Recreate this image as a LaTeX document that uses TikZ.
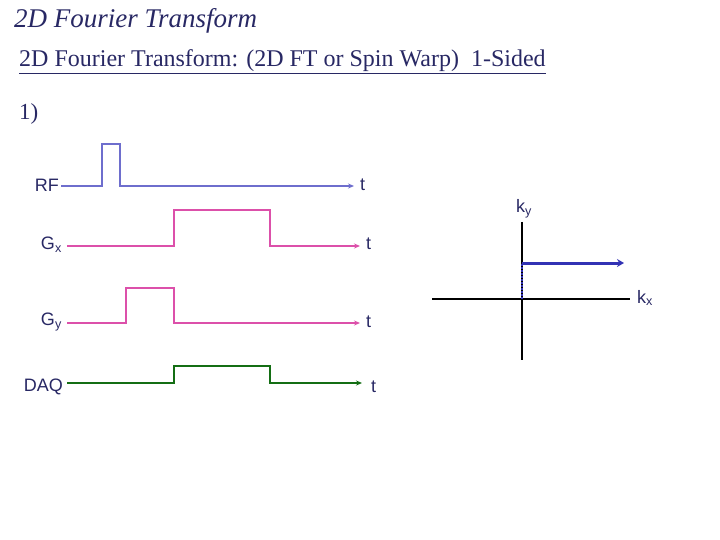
\documentclass[tikz,border=0pt]{standalone}
\usepackage{fontspec}
\setmainfont{Liberation Serif}
\setsansfont{Liberation Sans}
\usetikzlibrary{arrows.meta}
\definecolor{navy}{RGB}{40,40,100}
\definecolor{rfc}{RGB}{110,110,205}
\definecolor{pinkc}{RGB}{220,80,170}
\definecolor{greenc}{RGB}{20,110,20}
\definecolor{kblue}{RGB}{50,50,180}
\tikzset{
 lab/.style={font=\sffamily\fontsize{18}{20}\selectfont, text=navy, inner sep=0pt},
 wave/.style={line width=1.6pt, -{Stealth[length=6pt,width=5pt]}},
}
\begin{document}
\begin{tikzpicture}[x=1pt,y=-1pt]
\useasboundingbox (0,0) rectangle (720,540);
\node[anchor=west,inner sep=0pt,text=navy,font=\itshape\fontsize{27}{30}\selectfont] (title) at (14,21) {2D Fourier Transform};
\node[anchor=west,inner sep=0pt,text=navy,font=\fontsize{24}{26}\selectfont] (sub) at (19,62) {\underline{2D Fourier Transform: (2D FT or Spin Warp)\ \ 1-Sided}};
\node[anchor=west,inner sep=0pt,text=navy,font=\fontsize{23}{26}\selectfont] (one) at (19,114) {1)};
% RF
\node[lab,anchor=east] (rf) at (59,185) {RF};
\coordinate (rfe) at (354,186);
\draw[wave,rfc] (rf.east) ++(2,1) -- (102,186) -- (102,144) -- (120,144) -- (120,186) -- (rfe);
\node[lab,anchor=west] (t1) at (360,185) {t};
% Gx
\node[lab,anchor=east] (gx) at (62,245) {G\textsubscript{x}};
\coordinate (gxe) at (360,246);
\draw[wave,pinkc] (67,246) -- (174,246) -- (174,210) -- (270,210) -- (270,246) -- (gxe);
\node[lab,anchor=west] (t2) at (366,244) {t};
% Gy
\node[lab,anchor=east] (gy) at (62,322) {G\textsubscript{y}};
\coordinate (gye) at (360,323);
\draw[wave,pinkc] (67,323) -- (126,323) -- (126,288) -- (174,288) -- (174,323) -- (gye);
\node[lab,anchor=west] (t3) at (366,322) {t};
% DAQ
\node[lab,anchor=east] (daq) at (63,387) {DAQ};
\coordinate (daqe) at (362,383);
\draw[wave,greenc] (67,383) -- (174,383) -- (174,366) -- (270,366) -- (270,383) -- (daqe);
\node[lab,anchor=west] (t4) at (371,387) {t};
% k-space
\coordinate (xl) at (432,299); \coordinate (xr) at (630,299);
\coordinate (yt) at (522,222); \coordinate (yb) at (522,360);
\coordinate (o) at (522,299); \coordinate (k1) at (522,263); \coordinate (k2) at (624,263);
\draw[line width=1.4pt,black] (xl) -- (xr);
\draw[line width=1.4pt,black] (yt) -- (yb);
\draw[kblue,line width=2pt,densely dotted] (o) -- (k1);
\draw[kblue,line width=3pt,-{Stealth[length=7pt,width=8pt]}] (k1) -- (k2);
\node[lab,anchor=west] (ky) at (516,209) {k\textsubscript{y}};
\node[lab,anchor=west] (kx) at (637,298) {k\textsubscript{x}};
\end{tikzpicture}
\end{document}
